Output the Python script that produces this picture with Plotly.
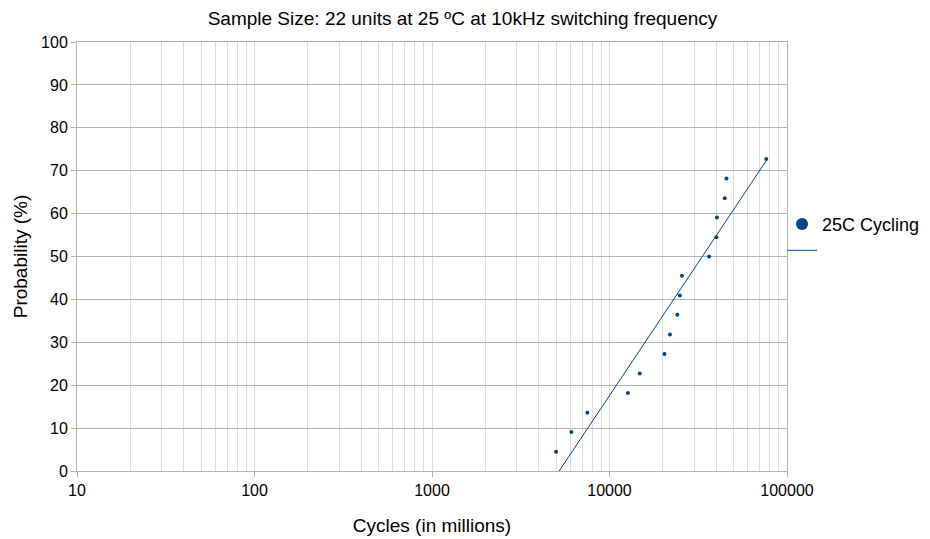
import numpy as np
import plotly.graph_objects as go

series_name = "25C Cycling"
cycles = [5000, 6100, 7500, 12700, 14800, 20400, 21900, 24100, 24900, 25600,
          36400, 40000, 40300, 44600, 45600, 76400]
probability = [4.5, 9.1, 13.6, 18.2, 22.7, 27.3, 31.8, 36.4, 40.9, 45.5,
               50.0, 54.5, 59.1, 63.6, 68.2, 72.7]
x_tick_vals = [10, 100, 1000, 10000, 100000]
x_tick_text = ["10", "100", "1000", "10000", "100000"]
y_tick_vals = [0, 10, 20, 30, 40, 50, 60, 70, 80, 90, 100]

# logarithmic trend line: y = a*log10(x) + b
lx = np.log10(cycles)
a, b = np.polyfit(lx, probability, 1)
tx = np.array([min(cycles), max(cycles)])
ty = a * np.log10(tx) + b

color = "#004586"
FONT = "Liberation Sans, Arial, sans-serif"
fig = go.Figure()
fig.add_trace(go.Scatter(x=cycles, y=probability, mode="markers", name=series_name,
                         marker=dict(color=color, size=4), showlegend=False))
# legend-only entry (larger symbol as in the reference legend)
fig.add_trace(go.Scatter(x=[None], y=[None], mode="markers", name=series_name,
                         marker=dict(color=color, size=12)))
fig.add_trace(go.Scatter(x=tx, y=ty, mode="lines", name=" ",
                         line=dict(color=color, width=1)))

fig.update_layout(
    width=930, height=539,
    margin=dict(l=69, r=151, t=34, b=76, autoexpand=False),
    paper_bgcolor="white", plot_bgcolor="white",
    font=dict(family=FONT, size=16, color="black"),
    title=dict(text="Sample Size: 22 units at 25 ºC at 10kHz switching frequency",
               x=0.4887, xanchor="center", y=0.9814, yanchor="middle",
               font=dict(size=19)),
    legend=dict(x=0.993, xanchor="left", y=0.545, yanchor="middle",
                font=dict(size=18), traceorder="normal",
                bgcolor="rgba(0,0,0,0)"),
    showlegend=True,
)
fig.update_xaxes(
    type="log", range=[1, 5], automargin=False,
    tickvals=x_tick_vals, ticktext=x_tick_text,
    showgrid=False, ticks="outside", ticklen=5, tickcolor="#b3b3b3",
    showline=True, linecolor="#b3b3b3", mirror=True,
    minor=dict(dtick="D1", showgrid=True, gridcolor="#dddddd", ticks=""),
    tickfont=dict(size=16),
    title=dict(text="Cycles (in millions)", font=dict(size=19), standoff=20),
    zeroline=False,
)
fig.update_yaxes(
    range=[0, 100], tickvals=y_tick_vals, automargin=False,
    showgrid=True, gridcolor="#b3b3b3",
    ticks="outside", ticklen=5, tickcolor="#b3b3b3",
    showline=True, linecolor="#b3b3b3", mirror=True,
    tickfont=dict(size=16),
    title=dict(text="Probability (%)", font=dict(size=19), standoff=8),
    zeroline=False,
)
fig.write_html("out.html")
